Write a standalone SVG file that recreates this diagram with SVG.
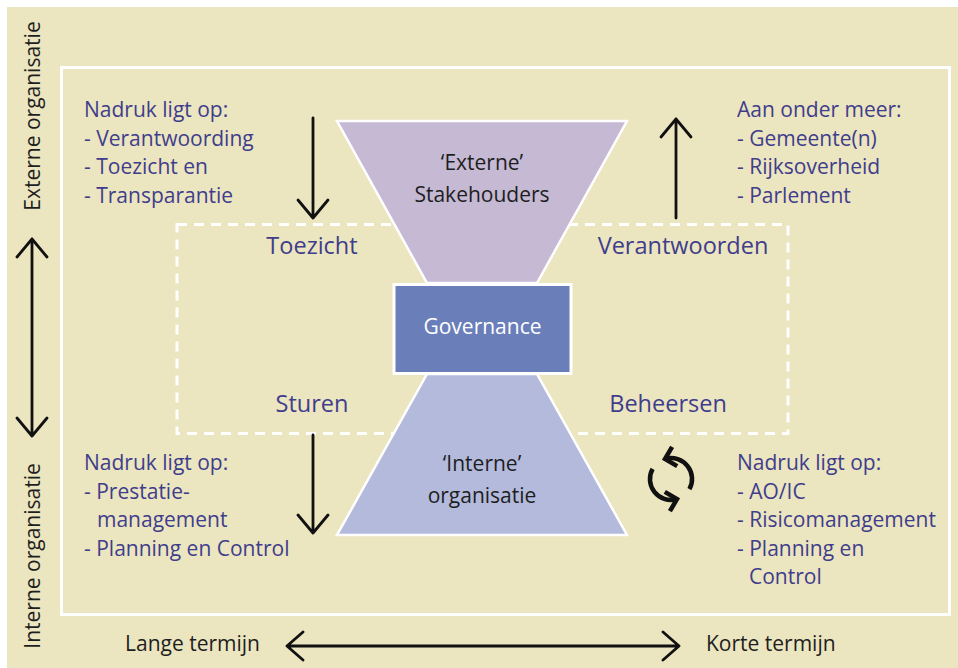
<svg xmlns="http://www.w3.org/2000/svg" width="958" height="668" viewBox="0 0 958 668">
<style>
text{font-family:"Open Sans","Noto Sans","DejaVu Sans",sans-serif;font-size:21px}
.blue{fill:#3f3d8c}
.dark{fill:#1e1e1e}
.lbl{fill:#3f3d8c;font-size:23.5px;text-anchor:middle}
.mid{text-anchor:middle}
.arr{fill:none;stroke:#111;stroke-width:2.8;stroke-linecap:round;stroke-linejoin:round}
.cyc{fill:none;stroke:#111;stroke-width:4.5;stroke-linecap:butt;stroke-linejoin:miter}
</style>
<rect x="0" y="0" width="958" height="668" fill="#ffffff"/>
<rect x="7" y="7" width="951" height="661" fill="#ebe5c0"/>
<rect x="61.5" y="67.5" width="888" height="547" fill="none" stroke="#ffffff" stroke-width="3"/>
<rect x="177" y="224.5" width="611" height="209" fill="none" stroke="#ffffff" stroke-width="3" stroke-dasharray="10 7"/>

<g id="externe-stakehouders">
<polygon points="337,121 627,121 537,283 427,283" fill="#c5b9d4" stroke="#ffffff" stroke-width="2.5"/>
<text class="mid dark" x="482" y="170">&#8216;Externe&#8217;</text>
<text class="mid dark" x="482" y="202">Stakehouders</text>
</g>
<g id="interne-organisatie">
<polygon points="427,374 537,374 627,535 337,535" fill="#b3badc" stroke="#ffffff" stroke-width="2.5"/>
<text class="mid dark" x="482" y="471">&#8216;Interne&#8217;</text>
<text class="mid dark" x="482" y="503">organisatie</text>
</g>
<g id="governance">
<rect x="394" y="284.5" width="177" height="89" fill="#6a7fba" stroke="#ffffff" stroke-width="3"/>
<text class="mid" x="482.5" y="334" fill="#ffffff">Governance</text>
</g>

<g id="labels">
<text class="lbl" x="312" y="254">Toezicht</text>
<text class="lbl" x="683" y="254">Verantwoorden</text>
<text class="lbl" x="312" y="412">Sturen</text>
<text class="lbl" x="668" y="412">Beheersen</text>
</g>

<g id="nadruk-extern">
<text class="blue" x="84" y="117">Nadruk ligt op:</text>
<text class="blue" x="84" y="145.5">- Verantwoording</text>
<text class="blue" x="84" y="174">- Toezicht en</text>
<text class="blue" x="84" y="202.5">- Transparantie</text>
</g>
<g id="aan-onder-meer">
<text class="blue" x="737" y="117">Aan onder meer:</text>
<text class="blue" x="737" y="145.5">- Gemeente(n)</text>
<text class="blue" x="737" y="174">- Rijksoverheid</text>
<text class="blue" x="737" y="202.5">- Parlement</text>
</g>
<g id="nadruk-intern">
<text class="blue" x="84" y="470">Nadruk ligt op:</text>
<text class="blue" x="84" y="498.5">- Prestatie-</text>
<text class="blue" x="97" y="527">management</text>
<text class="blue" x="84" y="555.5">- Planning en Control</text>
</g>
<g id="nadruk-beheersen">
<text class="blue" x="737" y="470">Nadruk ligt op:</text>
<text class="blue" x="737" y="498.5">- AO/IC</text>
<text class="blue" x="737" y="527">- Risicomanagement</text>
<text class="blue" x="737" y="555.5">- Planning en</text>
<text class="blue" x="749" y="584">Control</text>
</g>

<g id="axes">
<text class="mid dark" transform="translate(40,116) rotate(-90)">Externe organisatie</text>
<text class="mid dark" transform="translate(40,556) rotate(-90)">Interne organisatie</text>
<text class="dark" x="125" y="651">Lange termijn</text>
<text class="dark" x="706" y="651">Korte termijn</text>
</g>

<g id="connectors">
<path class="arr" d="M32,239 V436 M17,257 L32,239 L47,257 M17,418 L32,436 L47,418"/>
<path class="arr" d="M287,646 H679 M303,632 L287,646 L303,660 M663,632 L679,646 L663,660"/>
<path class="arr" d="M313,118 V218 M298,200 L313,218 L328,200"/>
<path class="arr" d="M313,435 V533 M298,515 L313,533 L328,515"/>
<path class="arr" d="M676,218 V119 M661,137 L676,119 L691,137"/>
<g id="cycle">
<path class="cyc" d="M665.6,458.7 A21,21 0 0 1 689.4,489.2"/>
<path class="cyc" d="M672.1,446.8 L665,459 L677.2,466.1"/>
<path class="cyc" d="M676.4,499.3 A21,21 0 0 1 652.6,468.8"/>
<path class="cyc" d="M669.9,511.2 L677,499 L664.8,491.9"/>
</g>
</g>
</svg>
